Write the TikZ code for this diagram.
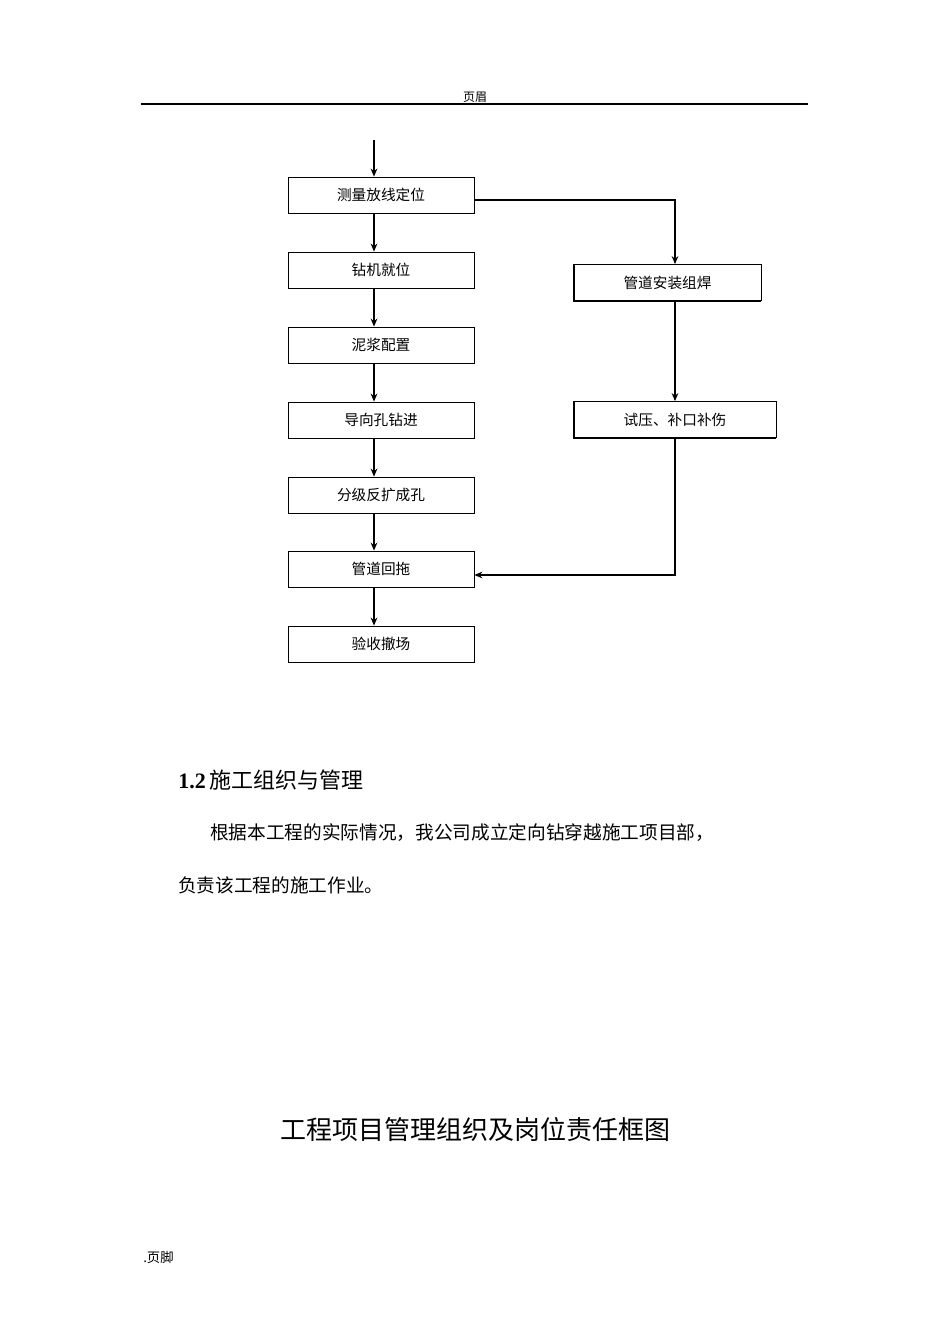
\documentclass[tikz,border=0pt]{standalone}
\usepackage{fontspec}
\usetikzlibrary{arrows.meta}
\setmainfont{Liberation Serif}
\newfontfamily\cjk{Noto Sans CJK SC}
\begin{document}
\begin{tikzpicture}[x=0.75pt,y=-0.75pt,
  box/.style={draw,line width=0.6pt,minimum width=186*0.75pt,minimum height=36*0.75pt,inner sep=0pt,font=\cjk\fontsize{11}{13}\selectfont},
  rbox/.style={box,minimum width=187*0.75pt},
  arr/.style={-{Stealth[length=6pt,width=5pt]},line width=0.9pt}]
\useasboundingbox (0,0) rectangle (950,1344);
\node[font=\cjk\fontsize{9}{11}\selectfont] at (475,97) {页眉};
\draw[line width=1.6pt] (141,104) -- (808,104);
\coordinate (top) at (374,140);
\node[box] (b1) at (381,195) {测量放线定位};
\node[box] (b2) at (381,270) {钻机就位};
\node[box] (b3) at (381,345) {泥浆配置};
\node[box] (b4) at (381,420) {导向孔钻进};
\node[box] (b5) at (381,495) {分级反扩成孔};
\node[box] (b6) at (381,569) {管道回拖};
\node[box] (b7) at (381,644) {验收撤场};
\node[rbox] (r1) at (667.5,282.5) {管道安装组焊};
\node[rbox,minimum width=202*0.75pt] (r2) at (675,419.5) {试压、补口补伤};
\draw[line width=1.4pt] (r1.north west) -- (r1.south west) -- (r1.south east);
\draw[line width=1.4pt] (r2.north west) -- (r2.south west) -- (r2.south east);
\draw[arr] (top) -- (b1.north -| top);
\foreach \a/\b in {b1/b2,b2/b3,b3/b4,b4/b5,b5/b6,b6/b7}
  \draw[arr] (\a.south -| top) -- (\b.north -| top);
\draw[arr] (b1.east |- 0,200) -- (675,200) -- (r1.north -| 675,0);
\draw[arr] (r1.south -| 675,0) -- (r2.north -| 675,0);
\draw[arr] (r2.south -| 675,0) -- (675,575) -- (b6.east |- 0,575);
\node[anchor=west,inner sep=0pt] at (178,780) {\fontsize{16.5}{18}\selectfont\textbf{1.2}\,{\cjk 施工组织与管理}};
\node[anchor=west,inner sep=0pt,font=\cjk\fontsize{14}{16}\selectfont] at (210,833) {根据本工程的实际情况，我公司成立定向钻穿越施工项目部，};
\node[anchor=west,inner sep=0pt,font=\cjk\fontsize{14}{16}\selectfont] at (178,885) {负责该工程的施工作业。};
\node[font=\cjk\fontsize{19.5}{22}\selectfont] at (475,1130) {工程项目管理组织及岗位责任框图};
\node[anchor=west,inner sep=0pt,font=\cjk\fontsize{10}{12}\selectfont] at (143,1257) {.页脚};
\end{tikzpicture}
\end{document}
